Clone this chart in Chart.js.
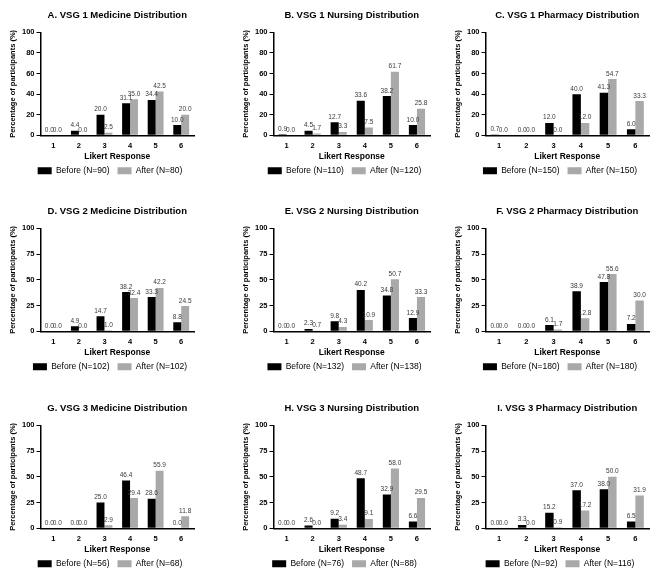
<!DOCTYPE html>
<html>
<head>
<meta charset="utf-8">
<script src="https://cdn.jsdelivr.net/npm/chart.js@4.4.1/dist/chart.umd.min.js"></script>
<style>
  body { margin: 0; background: #fff; width: 669px; height: 577px; position: relative; overflow: hidden; }
  .panel { position: absolute; width: 220px; height: 192px; }
</style>
</head>
<body>
<div class="panel" style="left:0px;top:0px"><canvas id="c0"></canvas></div>
<div class="panel" style="left:223px;top:0px"><canvas id="c1"></canvas></div>
<div class="panel" style="left:446px;top:0px"><canvas id="c2"></canvas></div>
<div class="panel" style="left:0px;top:196px"><canvas id="c3"></canvas></div>
<div class="panel" style="left:223px;top:196px"><canvas id="c4"></canvas></div>
<div class="panel" style="left:446px;top:196px"><canvas id="c5"></canvas></div>
<div class="panel" style="left:0px;top:393px"><canvas id="c6"></canvas></div>
<div class="panel" style="left:223px;top:393px"><canvas id="c7"></canvas></div>
<div class="panel" style="left:446px;top:393px"><canvas id="c8"></canvas></div>
<script>
const likert = ['1', '2', '3', '4', '5', '6'];

const titles = [
  'A. VSG 1 Medicine Distribution', 'B. VSG 1 Nursing Distribution', 'C. VSG 1 Pharmacy Distribution',
  'D. VSG 2 Medicine Distribution', 'E. VSG 2 Nursing Distribution', 'F. VSG 2 Pharmacy Distribution',
  'G. VSG 3 Medicine Distribution', 'H. VSG 3 Nursing Distribution', 'I. VSG 3 Pharmacy Distribution'
];

const nBefore = [90, 110, 150, 102, 132, 180, 56, 76, 92];
const nAfter = [80, 120, 150, 102, 138, 180, 68, 88, 116];

const beforeA = [0.0, 4.4, 20.0, 31.1, 34.4, 10.0];
const afterA  = [0.0, 0.0, 2.5, 35.0, 42.5, 20.0];
const beforeB = [0.9, 4.5, 12.7, 33.6, 38.2, 10.0];
const afterB  = [0.0, 1.7, 3.3, 7.5, 61.7, 25.8];
const beforeC = [0.7, 0.0, 12.0, 40.0, 41.3, 6.0];
const afterC  = [0.0, 0.0, 0.0, 12.0, 54.7, 33.3];
const beforeD = [0.0, 4.9, 14.7, 38.2, 33.3, 8.8];
const afterD  = [0.0, 0.0, 1.0, 32.4, 42.2, 24.5];
const beforeE = [0.0, 2.3, 9.8, 40.2, 34.8, 12.9];
const afterE  = [0.0, 0.7, 4.3, 10.9, 50.7, 33.3];
const beforeF = [0.0, 0.0, 6.1, 38.9, 47.8, 7.2];
const afterF  = [0.0, 0.0, 1.7, 12.8, 55.6, 30.0];
const beforeG = [0.0, 0.0, 25.0, 46.4, 28.6, 0.0];
const afterG  = [0.0, 0.0, 2.9, 29.4, 55.9, 11.8];
const beforeH = [0.0, 2.6, 9.2, 48.7, 32.9, 6.6];
const afterH  = [0.0, 0.0, 3.4, 9.1, 58.0, 29.5];
const beforeI = [0.0, 3.3, 15.2, 37.0, 38.0, 6.5];
const afterI  = [0.0, 0.0, 0.9, 17.2, 50.0, 31.9];

const befores = [beforeA, beforeB, beforeC, beforeD, beforeE, beforeF, beforeG, beforeH, beforeI];
const afters = [afterA, afterB, afterC, afterD, afterE, afterF, afterG, afterH, afterI];
const yStep = [20, 20, 20, 25, 25, 25, 25, 25, 25];

// left / right padding per column so the axes line up with the picture
const padLeft = [8, 18, 7];
const padRight = [26, 13, 17];

const FONT = 'Arial, "Liberation Sans", Helvetica, sans-serif';

// value labels above each bar
const valueLabels = {
  id: 'valueLabels',
  afterDatasetsDraw(chart) {
    const ctx = chart.ctx;
    ctx.save();
    ctx.font = '6.5px ' + FONT;
    ctx.fillStyle = '#3a3a3a';
    ctx.textAlign = 'center';
    ctx.textBaseline = 'bottom';
    chart.data.datasets.forEach((ds, i) => {
      chart.getDatasetMeta(i).data.forEach((bar, j) => {
        ctx.fillText(ds.data[j].toFixed(1), bar.x, bar.y - 2);
      });
    });
    ctx.restore();
  }
};

// nudge the legend a little right, it sits under the plot in the original
const legendShift = {
  id: 'legendShift',
  afterLayout(chart) {
    chart.legend.left += 9;
    chart.legend.right += 9;
  }
};

for (let k = 0; k < 9; k++) {
  const col = k % 3;
  new Chart(document.getElementById('c' + k), {
    type: 'bar',
    data: {
      labels: likert,
      datasets: [
        {
          label: 'Before (N=' + nBefore[k] + ')',
          data: befores[k],
          backgroundColor: '#000000',
          categoryPercentage: 0.62,
          barPercentage: 1.0
        },
        {
          label: 'After (N=' + nAfter[k] + ')',
          data: afters[k],
          backgroundColor: '#a9a9a9',
          categoryPercentage: 0.62,
          barPercentage: 1.0
        }
      ]
    },
    options: {
      responsive: true,
      maintainAspectRatio: false,
      animation: false,
      layout: { padding: { left: padLeft[col], right: padRight[col], top: 4, bottom: 7 } },
      plugins: {
        title: {
          display: true,
          text: titles[k],
          color: '#000',
          fullSize: false,
          font: { family: FONT, size: 9.5, weight: 'bold' },
          padding: { top: 6, bottom: 11 }
        },
        legend: {
          position: 'bottom',
          fullSize: true,
          labels: {
            color: '#000',
            boxWidth: 14,
            boxHeight: 7,
            padding: 8,
            font: { family: FONT, size: 8.5 }
          }
        },
        tooltip: { enabled: false }
      },
      scales: {
        x: {
          grid: { display: false, drawTicks: false, tickLength: 0 },
          border: { color: '#000', width: 1.5 },
          ticks: { color: '#000', font: { family: FONT, size: 7.5, weight: 'bold' }, padding: 6.5 },
          title: { display: true, text: 'Likert Response', color: '#000', font: { family: FONT, size: 8.5, weight: 'bold' }, padding: { top: -5.6, bottom: -3.4 } }
        },
        y: {
          min: 0,
          max: 100,
          grid: { display: true, drawOnChartArea: false, color: '#000', tickLength: 4 },
          border: { color: '#000', width: 1.5 },
          ticks: { stepSize: yStep[k], color: '#000', font: { family: FONT, size: 7.5, weight: 'bold' }, padding: 2 },
          title: { display: true, text: 'Percentage of participants (%)', color: '#000', font: { family: FONT, size: 7.5, weight: 'bold' }, padding: { top: 0, bottom: 3 } }
        }
      }
    },
    plugins: [valueLabels, legendShift]
  });
}
</script>
</body>
</html>
